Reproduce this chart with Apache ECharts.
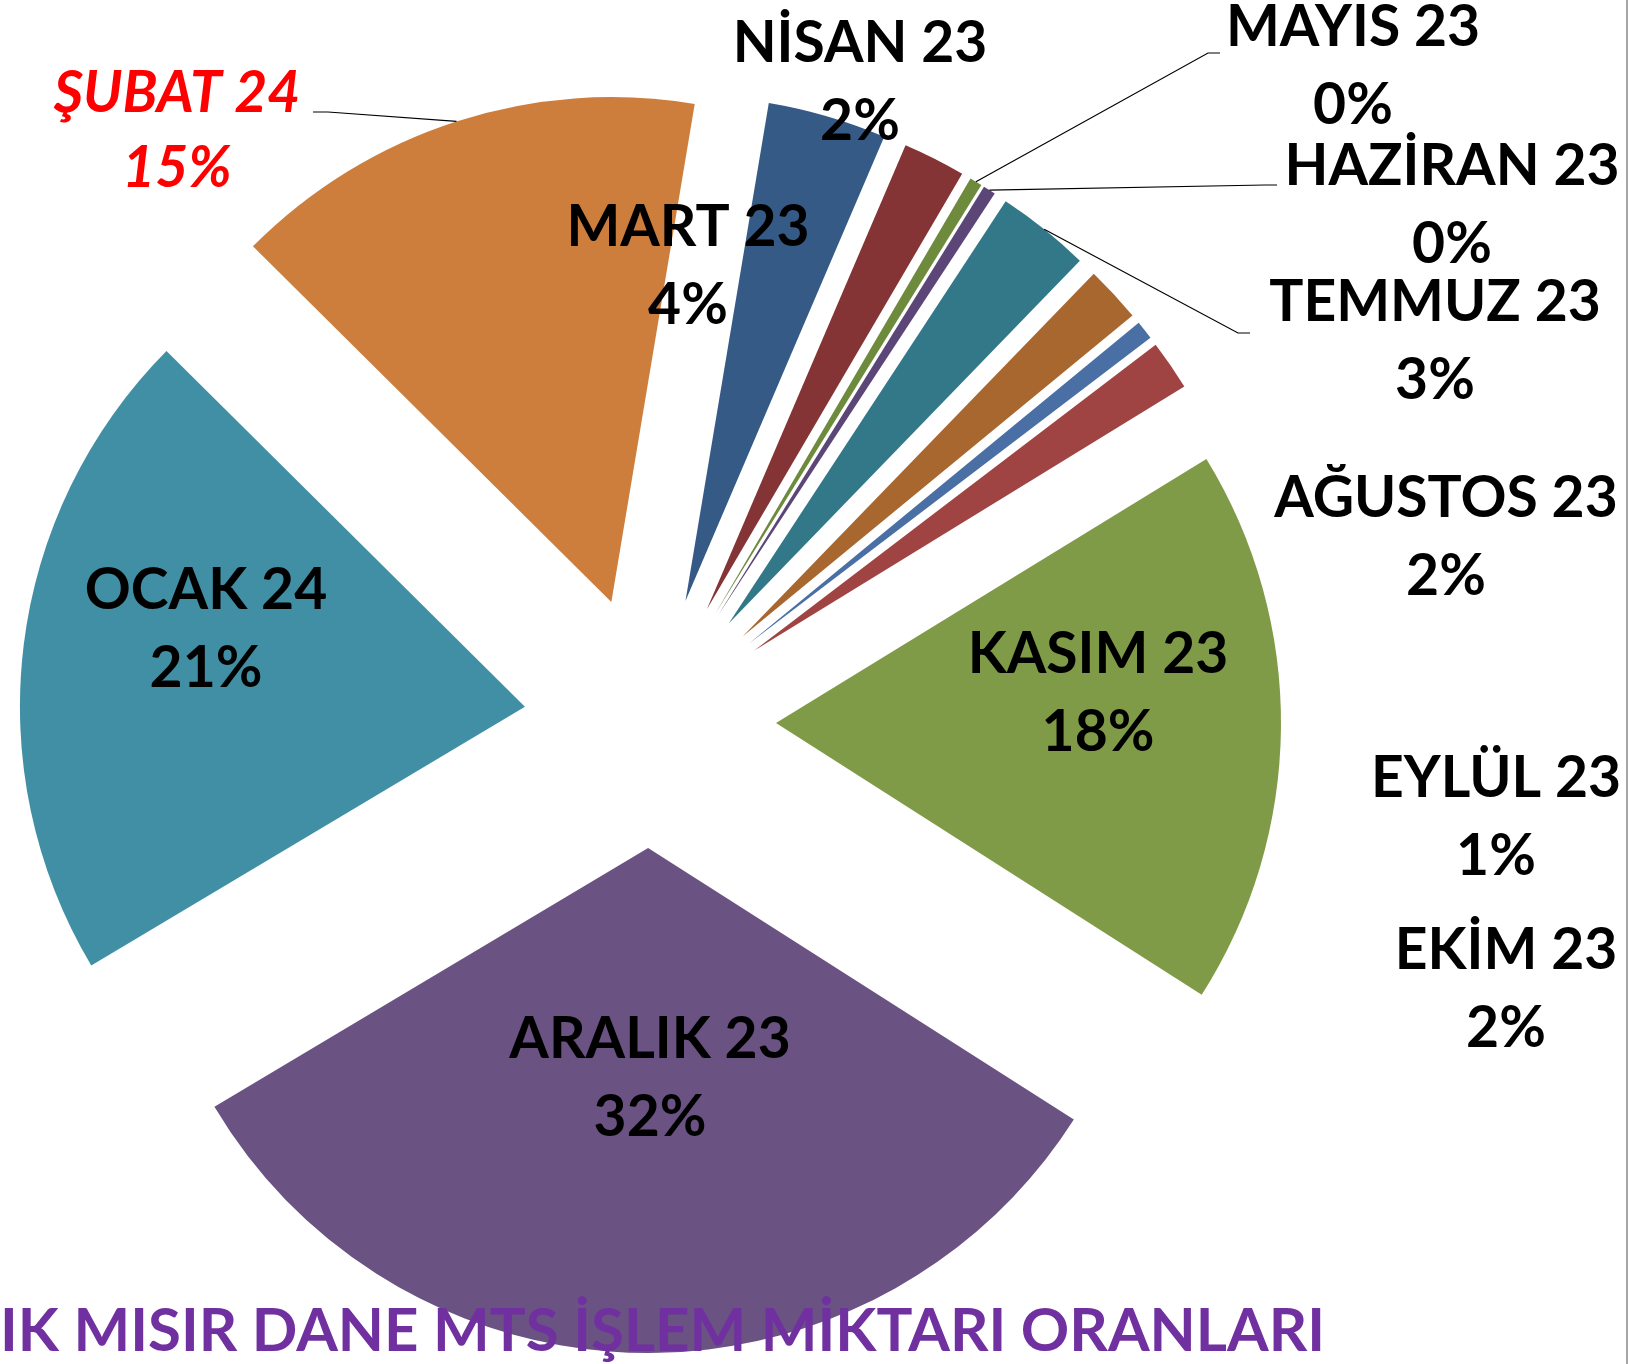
<!DOCTYPE html>
<html>
<head>
<meta charset="utf-8">
<title>MTS işlem miktarı oranları</title>
<script src="https://cdn.jsdelivr.net/npm/echarts@6/dist/echarts.min.js"></script>
<style>
  html, body { margin: 0; padding: 0; background: #fff; }
  #chart { width: 1629px; height: 1364px; }
</style>
</head>
<body>
<div id="chart"></div>
<script>
  // aylar ve oranlar (yüzde, resimden okunan tahmini değerler)
  var months = ['MART 23', 'NİSAN 23', 'MAYIS 23', 'HAZİRAN 23', 'TEMMUZ 23', 'AĞUSTOS 23',
    'EYLÜL 23', 'EKİM 23', 'KASIM 23', 'ARALIK 23', 'OCAK 24', 'ŞUBAT 24'];
  var shares = [3.8, 2.0, 0.4, 0.4, 3.0, 1.8, 0.6, 1.6, 17.8, 32.4, 21.0, 15.2];
  var colors = ['#365A86', '#843434', '#6E8B3D', '#5B4677', '#327889', '#A8672F',
    '#4A6FA5', '#A04343', '#809B48', '#6A5283', '#418FA5', '#CD7D3C'];
  var titleText = 'IK MISIR DANE MTS İŞLEM MİKTARI ORANLARI';

  var cx = 650, cy = 722, R = 505, offset = 126, startAngle = 80.5;

  // etiket kutularının merkezleri
  var labelPos = [
    [688, 267], [860, 83], [1353, 67], [1452, 206], [1435, 342], [1446, 538],
    [1496, 818], [1506, 990], [1098, 694], [650, 1079], [206, 630], [177, 131]
  ];
  // kılavuz çizgisi olan etiketler: dirsek noktaları
  var leader = {
    2: [[1208, 53], [1220, 53]],
    3: [[1265, 185], [1277, 185]],
    4: [[1238, 333], [1250, 333]],
    11: [[328, 112], [313, 112]]
  };
  var redLabel = 11;

  var total = shares.reduce(function (a, b) { return a + b; }, 0);
  function edgePoint(i) {
    var cum = 0;
    for (var k = 0; k < i; k++) cum += shares[k];
    var a = (90 - startAngle + 360 * (cum + shares[i] / 2) / total) * Math.PI / 180;
    return [cx + (R + offset) * Math.sin(a), cy - (R + offset) * Math.cos(a)];
  }

  var data = months.map(function (m, i) {
    return { name: m, value: shares[i], selected: true, itemStyle: { color: colors[i] } };
  });

  var rich = {
    n: { fontFamily: 'Lato', fontWeight: 'bold', fontSize: 57, fill: '#000', lineHeight: 78, align: 'center' },
    s: { fontFamily: 'Lato', fontWeight: 'bold', fontStyle: 'italic', fontSize: 57, fill: '#FF0000', lineHeight: 75, align: 'center' }
  };

  var graphics = [];
  months.forEach(function (m, i) {
    var pct = Math.round(shares[i] / total * 100) + '%';
    var key = i === redLabel ? 's' : 'n';
    if (leader[i]) {
      graphics.push({
        type: 'polyline',
        z: 90,
        shape: { points: [edgePoint(i)].concat(leader[i]) },
        style: { stroke: '#000', lineWidth: 1.2, fill: null }
      });
    }
    graphics.push({
      type: 'text',
      x: labelPos[i][0],
      y: labelPos[i][1],
      z: 95,
      style: {
        text: '{' + key + '|' + m + '}\n{' + key + '|' + pct + '}',
        rich: rich,
        align: 'center',
        verticalAlign: 'middle'
      }
    });
  });
  graphics.push({
    type: 'text',
    left: 0,
    top: 1302,
    z: 100,
    style: { text: titleText, fill: '#7030A0', font: 'bold 60px Lato' }
  });
  // sağ kenardaki ince çerçeve çizgisi
  graphics.push({
    type: 'line',
    z: 100,
    shape: { x1: 1627, y1: 0, x2: 1627, y2: 1364 },
    style: { stroke: '#A6A6A6', lineWidth: 2 }
  });

  var chart = echarts.init(document.getElementById('chart'));
  chart.setOption({
    animation: false,
    graphic: graphics,
    series: [{
      type: 'pie',
      center: [cx, cy],
      radius: R,
      startAngle: startAngle,
      clockwise: true,
      selectedMode: 'multiple',
      selectedOffset: offset,
      emphasis: { disabled: true },
      label: { show: false },
      labelLine: { show: false },
      data: data
    }]
  });
  window.addEventListener('resize', function () { chart.resize(); });
</script>
</body>
</html>
